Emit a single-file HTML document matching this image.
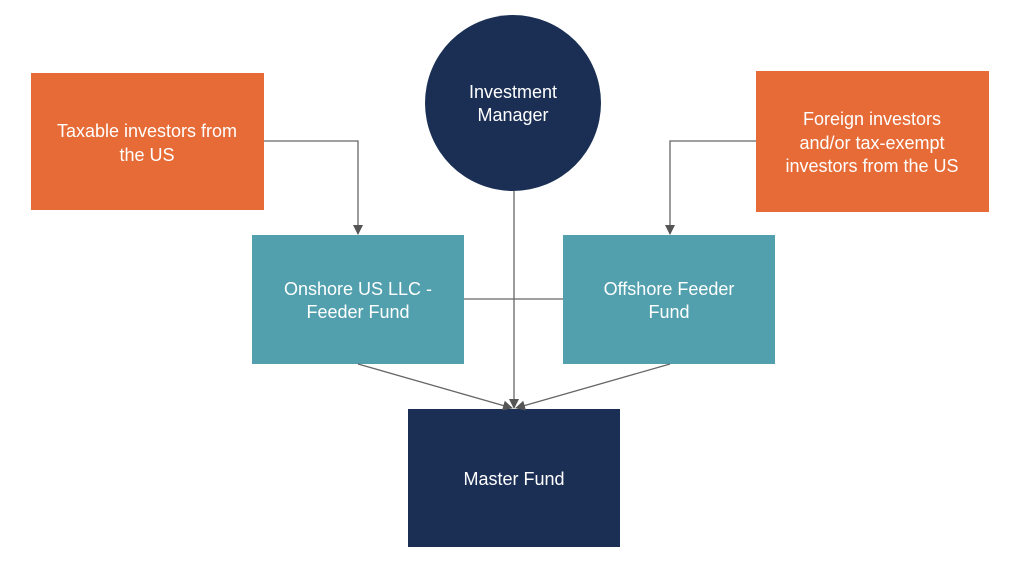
<!DOCTYPE html>
<html><head><meta charset="utf-8"><style>
html,body{margin:0;padding:0;background:#fff;}
body{width:1024px;height:579px;position:relative;overflow:hidden;font-family:"Liberation Sans",sans-serif;}
svg{position:absolute;left:0;top:0;}
</style></head><body>
<svg width="1024" height="579" viewBox="0 0 1024 579">
<defs>
<marker id="a" markerWidth="10" markerHeight="10" refX="9" refY="5" orient="auto" markerUnits="userSpaceOnUse">
<path d="M0,0 L10,5 L0,10 z" fill="#555"/></marker>
</defs>
<rect x="31" y="73" width="233" height="137" fill="#E66B37"/>
<rect x="756" y="71" width="233" height="141" fill="#E66B37"/>
<rect x="252" y="235" width="212" height="129" fill="#52A0AE"/>
<rect x="563" y="235" width="212" height="129" fill="#52A0AE"/>
<rect x="408" y="409" width="212" height="138" fill="#1B2F55"/>
<circle cx="513" cy="103" r="88" fill="#1B2F55"/>
<g stroke="#666" stroke-width="1.3" fill="none">
<path d="M264 141 H358 V234" marker-end="url(#a)"/>
<path d="M756 141 H670 V234" marker-end="url(#a)"/>
<line x1="464" y1="299" x2="563" y2="299"/>
<line x1="514" y1="191" x2="514" y2="408" marker-end="url(#a)"/>
<line x1="358" y1="364" x2="512" y2="408" marker-end="url(#a)"/>
<line x1="670" y1="364" x2="516" y2="408" marker-end="url(#a)"/>
</g>
<g fill="#fff" font-family="Liberation Sans, sans-serif" font-size="18" text-anchor="middle">
<text x="147" y="137">Taxable investors from</text>
<text x="147" y="161">the US</text>
<text x="872" y="125">Foreign investors</text>
<text x="872" y="149">and/or tax-exempt</text>
<text x="872" y="172">investors from the US</text>
<text x="513" y="98">Investment</text>
<text x="513" y="121">Manager</text>
<text x="358" y="295">Onshore US LLC -</text>
<text x="358" y="318">Feeder Fund</text>
<text x="669" y="295">Offshore Feeder</text>
<text x="669" y="318">Fund</text>
<text x="514" y="485">Master Fund</text>
</g>
</svg>
</body></html>
